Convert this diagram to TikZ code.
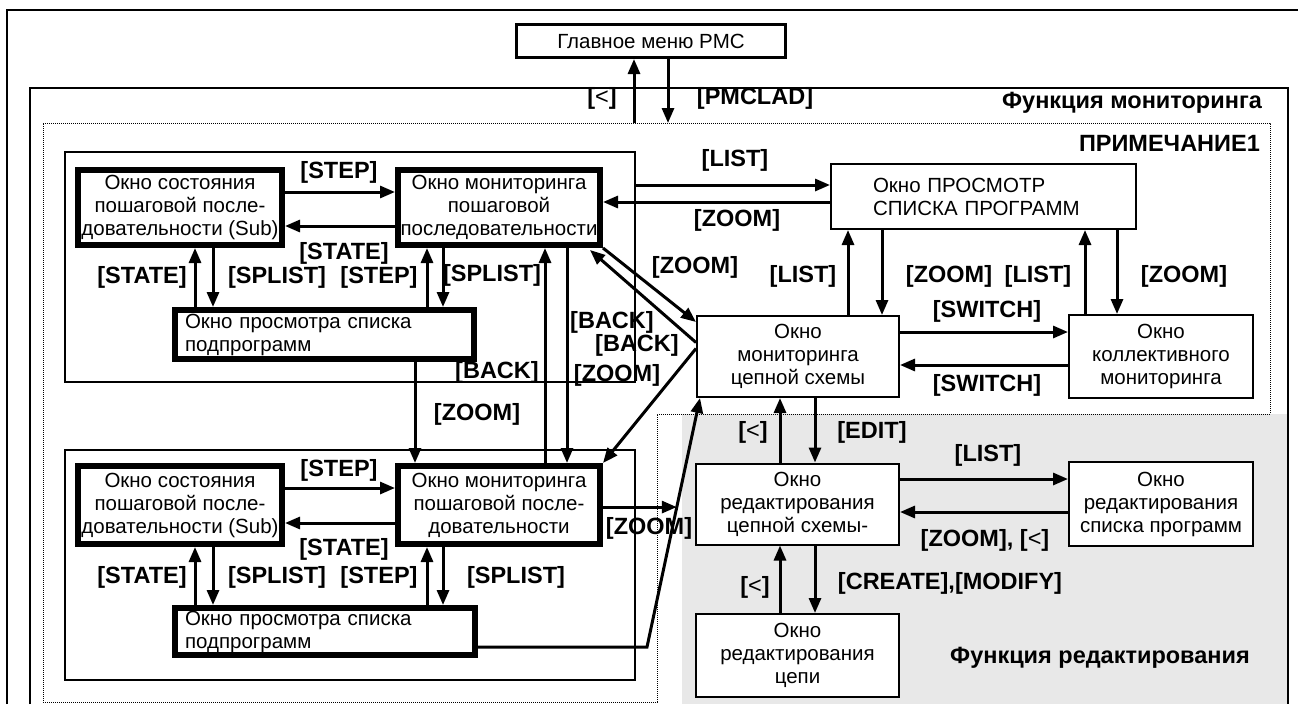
\documentclass[tikz,border=0pt]{standalone}
\usepackage{fontspec}
\setmainfont{Liberation Sans}
\usetikzlibrary{arrows.meta,calc}
\definecolor{editgray}{RGB}{232,232,232}
\newcommand\boxfont{\fontsize{20.5}{23}\selectfont}
\newcommand\lblfont{\fontsize{23.5}{26}\selectfont\bfseries}
\newcommand\lt{{\mdseries<}}
\begin{document}
\begin{tikzpicture}[x=1pt,y=-1pt,
  thickbox/.style={draw,line width=6pt,fill=white,inner sep=0pt,align=center,font=\boxfont},
  thinbox/.style={draw,line width=2pt,fill=white,inner sep=0pt,align=center,font=\boxfont},
  grpbox/.style={draw,line width=1.5pt,inner sep=0pt},
  lbl/.style={inner sep=0pt,font=\lblfont},
  conn/.style={line width=3pt,-{Triangle[length=15pt,width=12pt]}},
]
\useasboundingbox (0,0) rectangle (1298,704);
% background regions and frames
\fill[editgray] (682,414) rectangle (1288,704);
\draw[line width=2.5pt] (7,704) -- (7,10) -- (1298,10);
\draw[line width=1.3pt] (30,704) -- (30,88) -- (1288,88) -- (1288,704);
\draw[densely dotted,line width=1pt] (43,123) -- (1270,123) -- (1270,414) -- (657,414) -- (657,702) -- (43,702) -- cycle;

% group boxes
\node[grpbox,minimum width=570pt,minimum height=230pt] (grp1) at (350,267) {};
\node[grpbox,minimum width=570pt,minimum height=230pt] (grp2) at (350,565) {};

% nodes
\node[draw,line width=3pt,fill=white,inner sep=0pt,font=\boxfont,minimum width=269pt,minimum height=33pt] (menu) at (651,41) {Главное меню PMC};

\node[thickbox,minimum width=204pt,minimum height=75pt] (A1) at (180,207.5) {Окно состояния\\пошаговой после-\\довательности (Sub)};
\node[thickbox,minimum width=202pt,minimum height=75pt] (B1) at (499,207.5) {Окно мониторинга\\пошаговой\\последовательности};
\node[thickbox,minimum width=299pt,minimum height=49pt,align=left,text width=279pt,inner xsep=10pt] (C1) at (324.5,334.5) {Окно просмотра списка\\подпрограмм};

\node[thickbox,minimum width=204pt,minimum height=78pt] (A2) at (180,505) {Окно состояния\\пошаговой после-\\довательности (Sub)};
\node[thickbox,minimum width=202pt,minimum height=78pt] (B2) at (499,505) {Окно мониторинга\\пошаговой после-\\довательности};
\node[thickbox,minimum width=300pt,minimum height=47pt,align=left,text width=280pt,inner xsep=10pt] (C2) at (325,631.5) {Окно просмотра списка\\подпрограмм};

\node[thinbox,minimum width=305pt,minimum height=65pt,align=left,text width=221pt,inner xsep=42pt] (E) at (983.5,196.5) {Окно ПРОСМОТР\\СПИСКА ПРОГРАММ};
\node[thinbox,minimum width=202pt,minimum height=81pt] (D) at (798,356.5) {Окно\\мониторинга\\цепной схемы};
\node[thinbox,minimum width=184pt,minimum height=83pt] (F) at (1161,356.5) {Окно\\коллективного\\мониторинга};

\node[thinbox,minimum width=203pt,minimum height=81pt] (G) at (797.5,504) {Окно\\редактирования\\цепной схемы-};
\node[thinbox,minimum width=184pt,minimum height=84pt] (H) at (1161,504) {Окно\\редактирования\\списка программ};
\node[thinbox,minimum width=203pt,minimum height=83pt] (I) at (797.5,655.5) {Окно\\редактирования\\цепи};

% helper coordinates
\coordinate (monUp) at (634,123);
\coordinate (monDown) at (668,123);
\coordinate (bend) at (647,647);
\coordinate (Dtip) at ($(D.south west)+(4,0)$);
\coordinate (merge) at ($(bend)!0.562!(Dtip)$);

% connectors: main menu
\draw[conn] (monUp) -- ($(menu.south)+(-17,0)$);
\draw[conn] ($(menu.south)+(17,0)$) -- (monDown);

% upper group
\draw[conn] ($(A1.east)+(0,-15.5)$) -- ($(B1.west)+(0,-15.5)$);
\draw[conn] ($(B1.west)+(0,18.5)$) -- ($(A1.east)+(0,18.5)$);
\draw[conn] ($(C1.north)+(-129.5,0)$) -- ($(A1.south)+(15,0)$);
\draw[conn] ($(A1.south)+(33,0)$) -- ($(C1.north)+(-111.5,0)$);
\draw[conn] ($(C1.north)+(102.5,0)$) -- ($(B1.south)+(-72,0)$);
\draw[conn] ($(B1.south)+(-56,0)$) -- ($(C1.north)+(118.5,0)$);

% between groups
\draw[conn] ($(C1.south)+(90.5,0)$) -- ($(B2.north)+(-84,0)$);
\draw[conn] ($(B2.north)+(46,0)$) -- ($(B1.south)+(46,0)$);
\draw[conn] ($(B1.south)+(68,0)$) -- ($(B2.north)+(68,0)$);

% lower group
\draw[conn] ($(A2.east)+(0,-17)$) -- ($(B2.west)+(0,-17)$);
\draw[conn] ($(B2.west)+(0,18)$) -- ($(A2.east)+(0,18)$);
\draw[conn] ($(C2.north)+(-130,0)$) -- ($(A2.south)+(15,0)$);
\draw[conn] ($(A2.south)+(33,0)$) -- ($(C2.north)+(-112,0)$);
\draw[conn] ($(C2.north)+(102,0)$) -- ($(B2.south)+(-72,0)$);
\draw[conn] ($(B2.south)+(-56,0)$) -- ($(C2.north)+(118,0)$);

% to program list window
\draw[conn] ($(grp1.east)+(0,-82)$) -- ($(E.west)+(0,-11.5)$);
\draw[conn] ($(E.west)+(0,5.5)$) -- ($(B1.east)+(0,-5.5)$);

% diagonals to/from ladder monitor
\draw[conn] (B1.south east) -- ($(D.west)+(0,-34.5)$);
\draw[conn] ($(D.west)+(0,-14)$) -- ($(B1.south east)+(-13,2)$);
\draw[conn] ($(D.west)+(0,-8)$) -- (B2.north east);
\draw[conn] ($(C2.east)+(0,15.5)$) -- (bend) -- (Dtip);
\draw[conn] (B2.east |- merge) -- (merge);

% right side
\draw[conn] ($(D.north)+(50,0)$) -- ($(E.south)+(-135.5,0)$);
\draw[conn] ($(E.south)+(-101.5,0)$) -- ($(D.north)+(84,0)$);
\draw[conn] ($(F.north)+(-76,0)$) -- ($(E.south)+(101.5,0)$);
\draw[conn] ($(E.south)+(133.5,0)$) -- ($(F.north)+(-44,0)$);
\draw[conn] ($(D.east)+(0,-24.5)$) -- ($(F.west)+(0,-24.5)$);
\draw[conn] ($(F.west)+(0,8.5)$) -- ($(D.east)+(0,8.5)$);

% editing
\draw[conn] ($(G.north)+(-17.5,0)$) -- ($(D.south)+(-18,0)$);
\draw[conn] ($(D.south)+(17,0)$) -- ($(G.north)+(17.5,0)$);
\draw[conn] ($(G.east)+(0,-25)$) -- ($(H.west)+(0,-25)$);
\draw[conn] ($(H.west)+(0,8)$) -- ($(G.east)+(0,8)$);
\draw[conn] ($(I.north)+(-17.5,0)$) -- ($(G.south)+(-17.5,0)$);
\draw[conn] ($(G.south)+(17.5,0)$) -- ($(I.north)+(17.5,0)$);

% labels
\node[lbl] (lLt0) at (602,98) {[\lt]};
\node[lbl] (lPmc) at (755,98) {[PMCLAD]};
\node[lbl,anchor=east] (lMon) at (1262,103) {Функция мониторинга};
\node[lbl,anchor=east] (lNote) at (1260,143) {ПРИМЕЧАНИЕ1};
\node[lbl] (lList1) at (735,160) {[LIST]};
\node[lbl] (lZoom1) at (737,220) {[ZOOM]};
\node[lbl] (lStep1) at (339,172) {[STEP]};
\node[lbl] (lState1) at (344,253) {[STATE]};
\node[lbl] (lState2) at (142,277) {[STATE]};
\node[lbl] (lSplist1) at (277,277) {[SPLIST]};
\node[lbl] (lStep2) at (379,277) {[STEP]};
\node[lbl] (lSplist2) at (492,275) {[SPLIST]};
\node[lbl] (lZoom2) at (695,267) {[ZOOM]};
\node[lbl] (lList2) at (803,276) {[LIST]};
\node[lbl] (lZoom3) at (949,276) {[ZOOM]};
\node[lbl] (lList3) at (1038,276) {[LIST]};
\node[lbl] (lZoom4) at (1184,276) {[ZOOM]};
\node[lbl] (lSw1) at (987,311) {[SWITCH]};
\node[lbl] (lSw2) at (987,385) {[SWITCH]};
\node[lbl] (lBack1) at (612,322) {[BACK]};
\node[lbl] (lBack2) at (637,345) {[BACK]};
\node[lbl] (lBack3) at (497,372) {[BACK]};
\node[lbl] (lZoom5) at (617,375) {[ZOOM]};
\node[lbl] (lZoom6) at (477,414) {[ZOOM]};
\node[lbl] (lStep3) at (339,470) {[STEP]};
\node[lbl] (lState3) at (344,549) {[STATE]};
\node[lbl] (lState4) at (142,577) {[STATE]};
\node[lbl] (lSplist3) at (277,577) {[SPLIST]};
\node[lbl] (lStep4) at (379,577) {[STEP]};
\node[lbl] (lSplist4) at (516,577) {[SPLIST]};
\node[lbl] (lZoom7) at (649,528) {[ZOOM]};
\node[lbl] (lLt1) at (753,432) {[\lt]};
\node[lbl] (lEdit) at (872,432) {[EDIT]};
\node[lbl] (lList4) at (988,455) {[LIST]};
\node[lbl] (lZoomLt) at (985,540) {[ZOOM], [\lt]};
\node[lbl] (lLt2) at (755,587) {[\lt]};
\node[lbl] (lCreate) at (950,583) {[CREATE],[MODIFY]};
\node[lbl] (lEditF) at (1100,658) {Функция редактирования};
\end{tikzpicture}
\end{document}
